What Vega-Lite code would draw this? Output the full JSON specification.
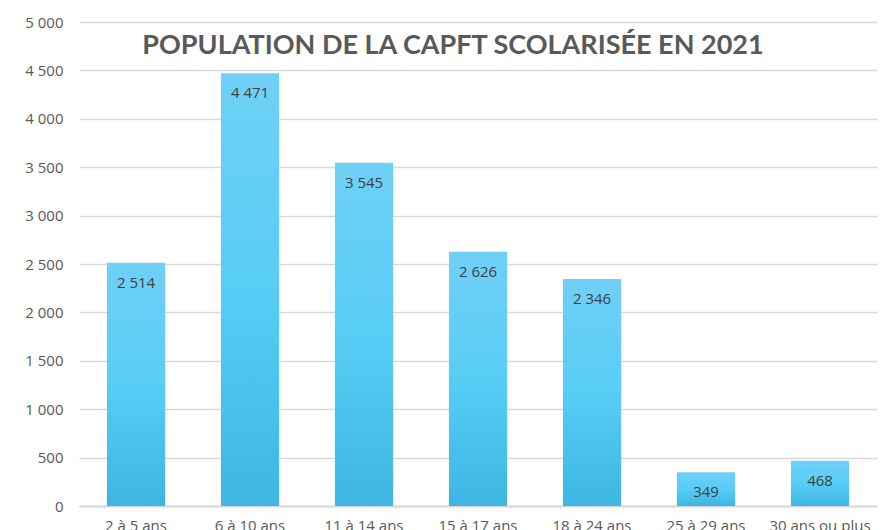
{
  "$schema": "https://vega.github.io/schema/vega-lite/v6.json",
  "width": 798,
  "height": 484,
  "autosize": {"type": "none"},
  "padding": {"left": 79, "top": 22, "right": 8, "bottom": 24},
  "background": "white",
  "config": {
    "locale": {"number": {"decimal": ",", "thousands": " ", "grouping": [3], "currency": ["", " €"]}},
    "view": {"stroke": null},
    "font": "Open Sans"
  },
  "title": {
    "text": "POPULATION DE LA CAPFT SCOLARISÉE EN 2021",
    "font": "Lato",
    "fontSize": 27,
    "fontWeight": "bold",
    "color": "#595959",
    "anchor": "middle",
    "dx": -25,
    "offset": -45,
    "baseline": "top"
  },
  "data": {
    "values": [
      {"age": "2 à 5 ans", "n": 2514},
      {"age": "6 à 10 ans", "n": 4471},
      {"age": "11 à 14 ans", "n": 3545},
      {"age": "15 à 17 ans", "n": 2626},
      {"age": "18 à 24 ans", "n": 2346},
      {"age": "25 à 29 ans", "n": 349},
      {"age": "30 ans ou plus", "n": 468}
    ]
  },
  "encoding": {
    "x": {
      "field": "age", "type": "nominal", "sort": null,
      "scale": {"paddingInner": 0.49, "paddingOuter": 0.245},
      "axis": {
        "title": null, "labelAngle": 0, "labelFontSize": 15, "labelColor": "#595959",
        "labelFont": "Open Sans", "ticks": false, "labelPadding": 12,
        "domainColor": "#d9d9d9", "domainWidth": 2
      }
    },
    "y": {
      "field": "n", "type": "quantitative",
      "scale": {"domain": [0, 5000]},
      "axis": {
        "title": null, "values": [0, 500, 1000, 1500, 2000, 2500, 3000, 3500, 4000, 4500, 5000],
        "format": ",d", "labelFontSize": 15, "labelColor": "#595959", "labelFont": "Open Sans",
        "ticks": false, "domain": false, "labelPadding": 16,
        "gridColor": "#d9d9d9", "gridWidth": 1.5
      }
    }
  },
  "layer": [
    {
      "mark": {
        "type": "bar",
        "color": {
          "gradient": "linear", "x1": 0, "y1": 0, "x2": 0, "y2": 1,
          "stops": [
            {"offset": 0, "color": "#70d0f6"},
            {"offset": 0.5, "color": "#57cdf6"},
            {"offset": 1, "color": "#3db6e3"}
          ]
        }
      }
    },
    {
      "mark": {"type": "text", "baseline": "middle", "dy": 20, "fontSize": 15, "color": "#404040", "font": "Open Sans"},
      "encoding": {"text": {"field": "n", "type": "quantitative", "format": ",d"}}
    }
  ]
}
